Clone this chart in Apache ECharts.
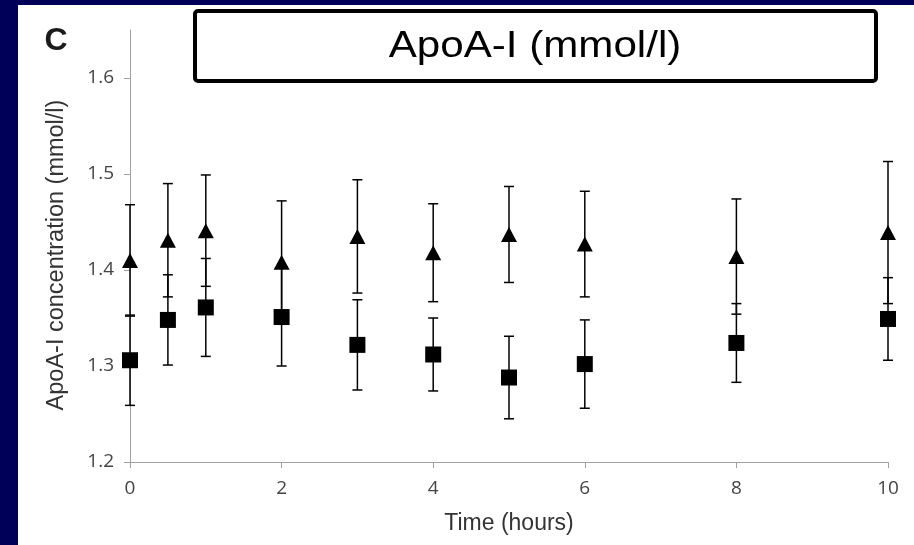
<!DOCTYPE html>
<html>
<head>
<meta charset="utf-8">
<script src="https://cdn.jsdelivr.net/npm/echarts@6/dist/echarts.min.js"></script>
<style>
  html, body { margin: 0; padding: 0; background: #000058; }
  #panel { position: absolute; left: 18px; top: 5px; width: 896px; height: 540px; background: #ffffff; }
  #chart { position: absolute; left: 0; top: 0; width: 914px; height: 545px; }
</style>
</head>
<body>
<div id="panel"></div>
<div id="chart"></div>
<script>
// Time points (hours)
const times = [0, 0.5, 1, 2, 3, 4, 5, 6, 8, 10];
// Triangle series: mean and error (half-width of error bar)
const triMean = [1.410, 1.431, 1.441, 1.408, 1.435, 1.418, 1.437, 1.427, 1.414, 1.439];
const triErr  = [0.058, 0.059, 0.058, 0.064, 0.059, 0.051, 0.050, 0.055, 0.060, 0.074];
// Square series: mean and error
const sqMean = [1.306, 1.348, 1.361, 1.351, 1.322, 1.312, 1.288, 1.302, 1.324, 1.349];
const sqErr  = [0.047, 0.047, 0.051, 0.051, 0.047, 0.038, 0.043, 0.046, 0.041, 0.043];
// Tick labels
const yTicks = [1.2, 1.3, 1.4, 1.5, 1.6];
const xTicks = [0, 2, 4, 6, 8, 10];

const chart = echarts.init(document.getElementById('chart'), null, { renderer: 'canvas' });

function errData(mean, err) {
  return times.map((t, i) => [t, mean[i] - err[i], mean[i] + err[i]]);
}
function renderErr(params, api) {
  const x = api.value(0);
  const lo = api.coord([x, api.value(1)]);
  const hi = api.coord([x, api.value(2)]);
  const w = 5;
  const st = { stroke: '#000000', lineWidth: 1.5 };
  return {
    type: 'group',
    children: [
      { type: 'line', shape: { x1: lo[0], y1: lo[1], x2: hi[0], y2: hi[1] }, style: st },
      { type: 'line', shape: { x1: lo[0] - w, y1: lo[1], x2: lo[0] + w, y2: lo[1] }, style: st },
      { type: 'line', shape: { x1: hi[0] - w, y1: hi[1], x2: hi[0] + w, y2: hi[1] }, style: st }
    ]
  };
}

const option = {
  backgroundColor: 'transparent',
  animation: false,
  grid: { left: 130, right: 26, top: 30, bottom: 83, containLabel: false },
  xAxis: {
    type: 'value', min: 0, max: 10, interval: 2,
    name: 'Time (hours)', nameLocation: 'middle', nameGap: 50,
    nameTextStyle: { fontFamily: 'Liberation Sans', fontSize: 23, color: '#333333' },
    axisLine: { show: true, lineStyle: { color: '#a0a0a0', width: 1 } },
    axisTick: { show: true, length: 6, lineStyle: { color: '#a0a0a0' }, customValues: xTicks },
    axisLabel: { customValues: xTicks, margin: 17, fontFamily: 'Open Sans', fontSize: 19, color: '#444444' },
    splitLine: { show: false }
  },
  yAxis: {
    type: 'value', min: 1.2, max: 1.65, interval: 0.1,
    name: 'ApoA-I concentration (mmol/l)', nameLocation: 'middle', nameGap: 61, nameRotate: 90,
    nameTextStyle: { fontFamily: 'Liberation Sans', fontSize: 23.5, color: '#333333', padding: [0, 18, 0, 0] },
    axisLine: { show: true, lineStyle: { color: '#a0a0a0', width: 1 } },
    axisTick: { show: true, length: 6, lineStyle: { color: '#a0a0a0' }, customValues: yTicks },
    axisLabel: { customValues: yTicks, margin: 16, fontFamily: 'Open Sans', fontSize: 19, color: '#444444',
      formatter: v => v.toFixed(1) },
    splitLine: { show: false }
  },
  graphic: [
    { type: 'rect', shape: { x: 195, y: 11, width: 681, height: 70, r: 3 },
      style: { fill: '#ffffff', stroke: '#000000', lineWidth: 4 }, z: 10 },
    { type: 'text', x: 535, y: 47, z: 11, scaleX: 1.17,
      style: { text: 'ApoA-I (mmol/l)', fontFamily: 'Liberation Sans', fontSize: 36, fill: '#000000',
        align: 'center', verticalAlign: 'middle',
        shadowColor: 'rgba(0,0,0,0.35)', shadowOffsetX: 2, shadowOffsetY: 2, shadowBlur: 2 } },
    { type: 'text', x: 56, y: 41, z: 11,
      style: { text: 'C', fontFamily: 'Liberation Sans', fontWeight: 'bold', fontSize: 32, fill: '#1a1a1a',
        align: 'center', verticalAlign: 'middle' } }
  ],
  series: [
    { type: 'custom', name: 'triErr', renderItem: renderErr, data: errData(triMean, triErr),
      encode: { x: 0, y: [1, 2] }, z: 2 },
    { type: 'custom', name: 'sqErr', renderItem: renderErr, data: errData(sqMean, sqErr),
      encode: { x: 0, y: [1, 2] }, z: 2 },
    { type: 'scatter', name: 'triangle', symbol: 'triangle', symbolSize: [16, 15],
      itemStyle: { color: '#000000', opacity: 1 }, data: times.map((t, i) => [t, triMean[i]]), z: 3 },
    { type: 'scatter', name: 'square', symbol: 'rect', symbolSize: 16,
      itemStyle: { color: '#000000', opacity: 1 }, data: times.map((t, i) => [t, sqMean[i]]), z: 3 }
  ]
};
chart.setOption(option);
</script>
</body>
</html>
